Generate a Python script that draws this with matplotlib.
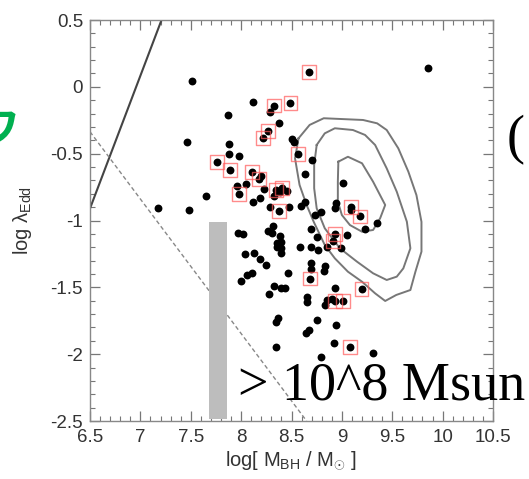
import matplotlib
matplotlib.use("Agg")
import matplotlib.pyplot as plt
from matplotlib.patches import Rectangle
from matplotlib.ticker import MultipleLocator, FuncFormatter

plt.rcParams["font.family"] = ["Liberation Sans", "DejaVu Sans"]
plt.rcParams["mathtext.fontset"] = "custom"
plt.rcParams["mathtext.rm"] = "Liberation Sans"
plt.rcParams["mathtext.it"] = "Liberation Sans:italic"
plt.rcParams["axes.unicode_minus"] = False

# black points: log M_BH, log lambda_Edd
mbh = [7.51, 9.85, 8.67, 8.12, 8.33, 8.49, 8.29, 7.87, 8.38, 8.27, 8.22, 7.46,
       7.88, 8.50, 8.52, 7.875, 7.98, 8.565, 8.70, 7.76, 7.89, 8.11, 8.20, 8.18,
       8.63, 9.01, 7.96, 8.045, 8.23, 7.98, 8.35, 8.41, 8.385, 8.46, 8.33, 7.655,
       8.12, 8.19, 8.63, 8.59, 8.38, 8.29, 8.48, 8.94, 8.93, 9.09, 9.09, 9.18,
       8.73, 8.79, 9.35, 9.23, 8.32, 7.17, 7.48, 7.97, 8.02, 8.27, 8.31, 8.39,
       8.69, 8.75, 8.93, 9.05, 8.915, 8.36, 8.40, 8.36, 8.40, 8.40, 8.58, 8.69,
       8.76, 8.855, 8.99, 8.035, 8.13, 8.19, 8.25, 8.465, 8.69, 8.69, 8.83, 8.82,
       8.68, 8.055, 8.11, 7.995, 8.33, 8.40, 8.44, 8.28, 9.195, 8.93, 8.90, 8.93,
       9.01, 8.835, 8.85, 8.65, 8.65, 8.37, 8.35, 8.75, 8.67, 8.64, 8.94, 8.35,
       8.92, 9.08, 9.31, 8.79]
ledd = [0.04, 0.14, 0.11, -0.11, -0.14, -0.12, -0.19, -0.21, -0.27, -0.33, -0.38, -0.41,
        -0.43, -0.39, -0.41, -0.50, -0.515, -0.50, -0.545, -0.565, -0.62, -0.64, -0.67, -0.69,
        -0.65, -0.72, -0.745, -0.73, -0.765, -0.80, -0.775, -0.76, -0.785, -0.78, -0.82, -0.817,
        -0.86, -0.835, -0.86, -0.89, -0.93, -0.90, -0.90, -0.867, -0.91, -0.897, -0.92, -0.97,
        -0.96, -0.94, -1.015, -1.06, -1.04, -0.91, -0.92, -1.09, -1.10, -1.08, -1.09, -1.116,
        -1.066, -1.12, -1.10, -1.11, -1.153, -1.166, -1.158, -1.196, -1.206, -1.245, -1.195, -1.20,
        -1.22, -1.20, -1.208, -1.25, -1.24, -1.29, -1.335, -1.39, -1.32, -1.365, -1.34, -1.38,
        -1.434, -1.408, -1.39, -1.456, -1.488, -1.505, -1.505, -1.548, -1.51, -1.507, -1.59, -1.605,
        -1.605, -1.63, -1.595, -1.57, -1.607, -1.73, -1.757, -1.744, -1.82, -1.844, -1.78, -1.944,
        -1.914, -1.944, -1.995, -2.02]

# boxed (highlighted) objects
box_mbh = [8.67, 8.33, 8.49, 8.27, 8.22, 8.565, 7.76, 7.89, 8.11, 8.18, 7.98, 8.35,
           8.41, 8.38, 9.09, 9.18, 8.93, 8.915, 8.68, 9.195, 8.93, 9.01, 9.08]
box_ledd = [0.11, -0.14, -0.12, -0.33, -0.38, -0.50, -0.565, -0.62, -0.64, -0.69, -0.80, -0.775,
            -0.76, -0.93, -0.897, -0.97, -1.10, -1.153, -1.434, -1.51, -1.605, -1.605, -1.944]

# contour levels (outer, middle, inner)
outer_x = [8.57, 8.68, 8.82, 9.21, 9.35, 9.445, 9.56, 9.66, 9.74, 9.79, 9.79, 9.73,
           9.68, 9.54, 9.43, 9.33, 9.20, 9.06, 8.93, 8.83, 8.72, 8.65, 8.58, 8.535]
outer_y = [-0.385, -0.285, -0.235, -0.248, -0.273, -0.323, -0.46, -0.635, -0.81, -1.01, -1.233, -1.383,
           -1.52, -1.557, -1.602, -1.545, -1.458, -1.383, -1.283, -1.183, -1.009, -0.884, -0.734, -0.535]
mid_x = [8.75, 8.83, 8.93, 9.11, 9.23, 9.33, 9.445, 9.545, 9.645, 9.68, 9.61, 9.545,
         9.445, 9.31, 9.15, 8.98, 8.83, 8.75, 8.725, 8.725]
mid_y = [-0.435, -0.348, -0.31, -0.323, -0.36, -0.435, -0.61, -0.785, -1.009, -1.208, -1.358, -1.42,
         -1.445, -1.395, -1.308, -1.208, -1.058, -0.909, -0.759, -0.585]
inner_x = [8.965, 9.06, 9.20, 9.31, 9.43, 9.38, 9.31, 9.20, 9.08, 9.0, 8.96, 8.96]
inner_y = [-0.56, -0.523, -0.572, -0.71, -0.884, -0.983, -1.071, -1.084, -1.034, -0.959, -0.859, -0.71]

# reference lines
solid_x = [6.5, 7.21]
solid_y = [-0.91, 0.5]
dash_x = [6.5, 8.65]
dash_y = [-0.336, -2.5]

fig = plt.figure(figsize=(5.29, 4.79), dpi=100)
ax = fig.add_axes([90 / 529, 1 - 421 / 479, 403 / 529, 401 / 479])

ax.plot(solid_x, solid_y, color="#444444", lw=1.5, zorder=2)
ax.plot(dash_x, dash_y, color="#888888", lw=1.0, dashes=(3, 2), zorder=2)

for cx, cy in [(outer_x, outer_y), (mid_x, mid_y), (inner_x, inner_y)]:
    ax.plot(cx + cx[:1], cy + cy[:1], color="#777777", lw=1.4, zorder=2)

ax.scatter(mbh, ledd, s=32, color="black", zorder=3, linewidths=0)
ax.scatter(box_mbh, box_ledd, s=100, marker="s", facecolors="none",
           edgecolors="#ff5a5a", linewidths=1.0, alpha=0.7, zorder=4)

# grey bar annotation
ax.add_patch(Rectangle((7.68, -2.485), 0.175, 1.476, color="#bdbdbd", zorder=5, lw=0))

ax.set_xlim(6.5, 10.5)
ax.set_ylim(-2.5, 0.5)
ax.xaxis.set_major_locator(MultipleLocator(0.5))
ax.yaxis.set_major_locator(MultipleLocator(0.5))
ax.xaxis.set_minor_locator(MultipleLocator(0.1))
ax.yaxis.set_minor_locator(MultipleLocator(0.1))
fmt = FuncFormatter(lambda v, p: "%g" % round(v, 2))
ax.xaxis.set_major_formatter(fmt)
ax.yaxis.set_major_formatter(fmt)
ax.tick_params(which="both", direction="in", top=True, right=True,
               color="#777777", labelcolor="#333333", labelsize=13.5)
ax.tick_params(which="major", length=7, width=0.9)
ax.tick_params(which="minor", length=3.5, width=0.8)
ax.tick_params(axis="y", pad=5)
ax.tick_params(axis="x", pad=6)
for sp in ax.spines.values():
    sp.set_color("#888888")
    sp.set_linewidth(1.0)

ax.set_ylabel("log λ$_{\\rm Edd}$", fontsize=14.5, color="#333333")
ax.set_xlabel(r"log[ M$_{\rm BH}$ / M$_{\odot}$ ]", fontsize=14.5, color="#333333")
ax.yaxis.set_label_coords(-0.14, 0.5)
ax.xaxis.set_label_coords(0.5, -0.072)

fig.text(238 / 529, 1 - 400 / 479, "> 10^8 Msun", family="Liberation Serif",
         fontsize=39, color="black", va="baseline", ha="left")
fig.text(507 / 529, 1 - 153 / 479, "(", family="Liberation Serif",
         fontsize=39, color="black", va="baseline", ha="left")
fig.text(19 / 529, 1 - 130 / 479, "ワ", family=["Noto Sans CJK JP", "DejaVu Sans"],
         fontsize=30, fontweight="bold", color="#00b050", va="center", ha="right")

fig.savefig("out.png", dpi=100)
